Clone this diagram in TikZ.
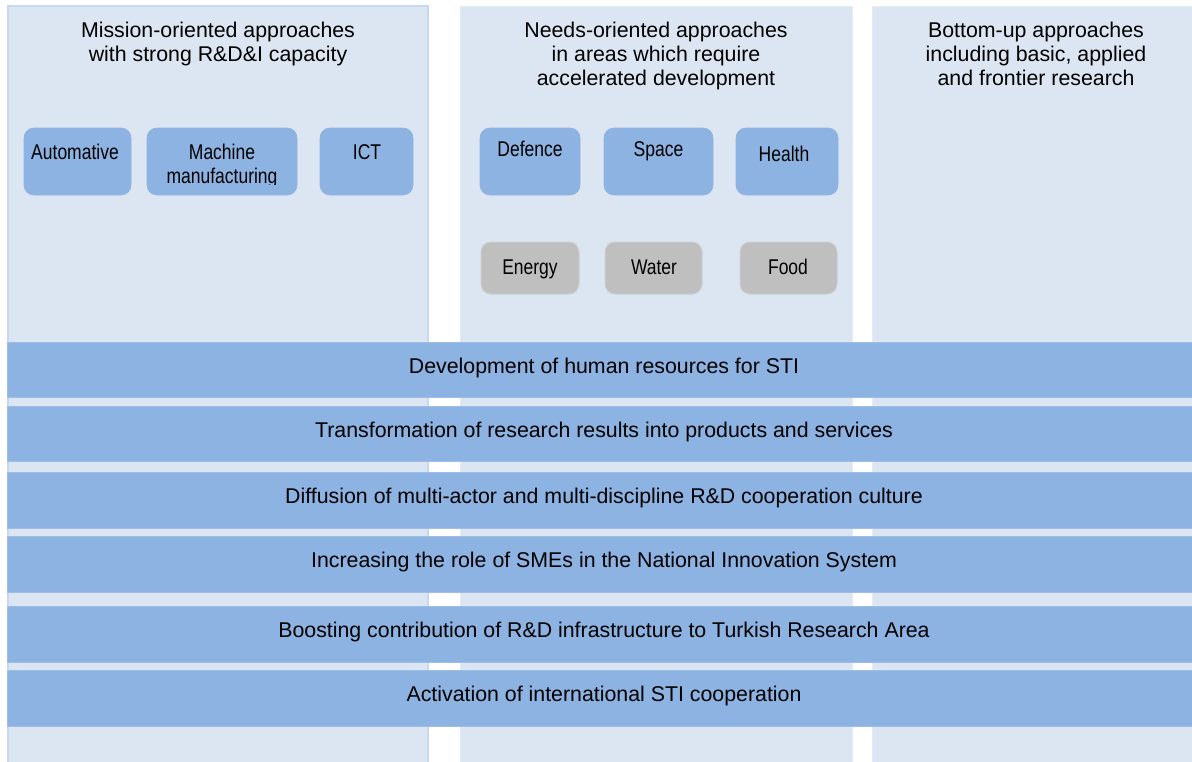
\documentclass[tikz,border=0pt]{standalone}
\usepackage{fontspec}
\setmainfont{Liberation Sans}
\newfontfamily\narrowfont[FakeStretch=0.82]{Liberation Sans}
\usetikzlibrary{fit}
\definecolor{colbg}{HTML}{DCE6F2}
\definecolor{colline}{HTML}{C6D9F1}
\definecolor{colfaint}{HTML}{E3EBF5}
\definecolor{bandblue}{HTML}{8DB3E2}
\definecolor{bandline}{HTML}{9EBEE6}
\definecolor{boxgray}{HTML}{BFBFBF}
\definecolor{grayline}{HTML}{CDCDCD}
\begin{document}
\begin{tikzpicture}[x=0.75pt,y=-0.75pt,
  column/.style={fill=colbg,draw=colline,line width=1.2pt,inner sep=0pt},
  plaincolumn/.style={fill=colbg,draw=colfaint,line width=0.75pt,inner sep=0pt},
  band/.style={fill=bandblue,draw=bandline,line width=0.75pt,inner sep=0pt},
  bluebox/.style={fill=bandblue,draw=bandblue,line width=0.5pt,rounded corners=7.5pt,inner sep=0pt},
  graybox/.style={fill=boxgray,draw=grayline,line width=0.75pt,rounded corners=7.5pt,inner sep=0pt},
  head/.style={anchor=north,inner sep=0pt,align=center,font=\fontsize{16}{18}\selectfont},
  bandtext/.style={anchor=base,inner sep=0pt,font=\fontsize{16}{18}\selectfont},
  boxtext/.style={anchor=base,inner sep=0pt,font=\narrowfont\fontsize{16}{18}\selectfont}]
\useasboundingbox (0,0) rectangle (1192,761);
\clip (0,0) rectangle (1192,761);
\fill[white] (0,0) rectangle (1192,761);

% columns
\node[column,fit={(8,6)(428,770)}] (col1) {};
\node[plaincolumn,fit={(460,6)(852,770)}] (col2) {};
\node[plaincolumn,fit={(872,6)(1200,770)}] (col3) {};

% column headings
\node[head] (h1) at (218,21.5) {Mission-oriented approaches\\with strong R\&D\&I capacity};
\node[head] (h2) at (656,21.5) {Needs-oriented approaches\\in areas which require\\accelerated development};
\node[head] (h3) at (1036,22) {Bottom-up approaches\\including basic, applied\\and frontier research};

% mission-oriented boxes
\node[bluebox,fit={(24,128)(131,195)}] (auto) {};
\node[bluebox,fit={(147,128)(297,195)}] (mach) {};
\node[bluebox,fit={(320,128)(413,195)}] (ict) {};
\node[boxtext] (auto-t) at (75,159) {Automative};
\node[boxtext] (mach-t1) at (222,159) {Machine};
\begin{scope}
  \clip (147,128) rectangle (297,184.3);
  \node[boxtext] (mach-t2) at (222,183) {manufacturing};
\end{scope}
\node[boxtext] (ict-t) at (367,159) {ICT};

% needs-oriented boxes
\node[bluebox,fit={(480,128)(580,195)}] (def) {};
\node[bluebox,fit={(604,128)(713,195)}] (space) {};
\node[bluebox,fit={(736,128)(838,195)}] (health) {};
\node[boxtext] (def-t) at (530,156) {Defence};
\node[boxtext] (space-t) at (658.5,156) {Space};
\node[boxtext] (health-t) at (784,161) {Health};

\node[graybox,fit={(481,242)(579,294)}] (energy) {};
\node[graybox,fit={(605,242)(702,294)}] (water) {};
\node[graybox,fit={(740,242)(837,294)}] (food) {};
\node[boxtext] (energy-t) at (530,274) {Energy};
\node[boxtext] (water-t) at (654,274) {Water};
\node[boxtext] (food-t) at (788,274) {Food};

% horizontal bands
\node[band,fit={(7,342)(1200,397)}] (b1) {};
\node[band,fit={(7,406)(1200,461)}] (b2) {};
\node[band,fit={(7,472)(1200,528)}] (b3) {};
\node[band,fit={(7,536)(1200,592)}] (b4) {};
\node[band,fit={(7,606)(1200,662)}] (b5) {};
\node[band,fit={(7,670)(1200,726)}] (b6) {};
\node[bandtext] (b1-t) at (604,373) {Development of human resources for STI};
\node[bandtext] (b2-t) at (604,437) {Transformation of research results into products and services};
\node[bandtext] (b3-t) at (604,503) {Diffusion of multi-actor and multi-discipline R\&D cooperation culture};
\node[bandtext] (b4-t) at (604,567) {Increasing the role of SMEs in the National Innovation System};
\node[bandtext] (b5-t) at (604,637) {Boosting contribution of R\&D infrastructure to Turkish Research Area};
\node[bandtext] (b6-t) at (604,701) {Activation of international STI cooperation};
\end{tikzpicture}
\end{document}
